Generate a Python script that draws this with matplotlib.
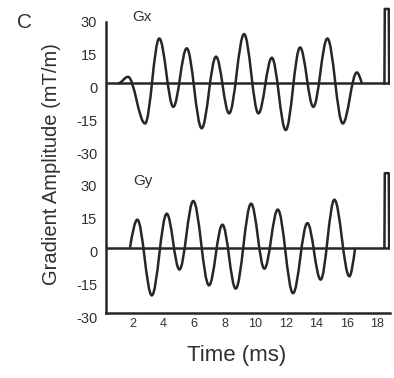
import matplotlib
matplotlib.use("Agg")
import matplotlib.pyplot as plt
from matplotlib.path import Path
from matplotlib.patches import PathPatch
from matplotlib.transforms import ScaledTranslation

plt.rcParams['font.family'] = ['Liberation Sans', 'DejaVu Sans']

# Gx readout gradient: times (ms) and amplitudes (mT/m) of each lobe extremum
gx_t = [1.02, 1.67, 2.79, 3.72, 4.64, 5.52, 6.50, 7.44, 8.30, 9.28,
        10.22, 11.10, 12.01, 12.95, 13.82, 14.74, 15.75, 16.67, 17.00]
gx_a = [0, 3, -18.3, 20.5, -10.7, 16, -20.5, 12.2, -13.7, 22.5,
        -13.7, 11.7, -21.3, 16.4, -10.7, 20.5, -18.3, 5, 0]

# Gy gradient
gy_t = [1.80, 2.28, 3.23, 4.21, 5.04, 5.95, 6.98, 7.86, 8.73, 9.74,
        10.61, 11.49, 12.49, 13.43, 14.30, 15.20, 16.18, 16.56]
gy_a = [0, 12.8, -21.8, 15.5, -10, 21.3, -17.2, 10.5, -18.7, 20.1,
        -9.6, 17.4, -20.8, 11.2, -14.6, 21.9, -13.1, 0]

# spoiler spikes at the end of each waveform
spike_t = [18.48, 18.79]
spike_amp = [34, 34]

panel_names = ["Gx", "Gy"]
ytick_vals = [-30, -15, 0, 15, 30]
xtick_vals = [2, 4, 6, 8, 10, 12, 14, 16, 18]

OFFSET = 75  # vertical shift of the Gx trace above the Gy trace
INK = "#262626"
TXT = "#303030"
LW = 1.8


def wave_path(t, a, base, start_cross=False, end_cross=False):
    """Smooth path through the lobe extrema using cubic Bezier segments."""
    verts = [(t[0], a[0] + base)]
    codes = [Path.MOVETO]
    n = len(t) - 1
    for i in range(n):
        t0, a0, t1, a1 = t[i], a[i], t[i + 1], a[i + 1]
        dt = t1 - t0
        if i == 0 and start_cross:
            c1 = (t0 + 0.326 * dt, a0 + 0.512 * (a1 - a0))
            c2 = (t1 - 0.326 * dt, a1)
        elif i == n - 1 and end_cross:
            c1 = (t0 + 0.326 * dt, a0)
            c2 = (t1 - 0.326 * dt, a1 - 0.512 * (a1 - a0))
        else:
            c1 = (t0 + 0.36 * dt, a0)
            c2 = (t1 - 0.36 * dt, a1)
        verts += [(c1[0], c1[1] + base), (c2[0], c2[1] + base), (t1, a1 + base)]
        codes += [Path.CURVE4] * 3
    return Path(verts, codes)


fig = plt.figure(figsize=(3.94, 3.78), dpi=100)
ax = fig.add_axes([0.268, 0.171, 0.722, 0.817])

traces = [(gx_t, gx_a, OFFSET, False, True), (gy_t, gy_a, 0, True, True)]
for k, (t, a, base, sc, ec) in enumerate(traces):
    ax.add_patch(PathPatch(wave_path(t, a, base, sc, ec), fill=False,
                           edgecolor=INK, lw=LW, joinstyle="round"))
    # zero line of this panel
    ax.axhline(base, color=INK, lw=LW)
    # spike
    s0, s1 = spike_t
    w = s1 - s0
    ax.plot([s0, s0 + 0.08 * w, s1 - 0.08 * w, s1],
            [base, base + spike_amp[k], base + spike_amp[k], base],
            color=INK, lw=LW, solid_joinstyle="round")

ax.text(2.59, 105.3, panel_names[0], ha="center", va="center", fontsize=11, color=TXT)
ax.text(2.62, 30.4, panel_names[1], ha="center", va="center", fontsize=11, color=TXT)

ax.set_xlim(0.2, 18.85)
ax.set_ylim(-30, 111)

yt = ytick_vals + [v + OFFSET for v in ytick_vals]
ax.set_yticks(yt)
ax.set_yticklabels([str(v) for v in ytick_vals * 2])
ax.set_xticks(xtick_vals)
ax.set_xticklabels([str(v) for v in xtick_vals])
ax.tick_params(axis="y", length=0, pad=6, labelsize=10.5, labelcolor=TXT)
ax.tick_params(axis="x", length=0, pad=3.5, labelsize=9, labelcolor=TXT)

shift = ScaledTranslation(0, -4 / 100, fig.dpi_scale_trans)
for lab in ax.get_yticklabels():
    lab.set_transform(lab.get_transform() + shift)

for side in ["top", "right"]:
    ax.spines[side].set_visible(False)
for side in ["left", "bottom"]:
    ax.spines[side].set_color(INK)
    ax.spines[side].set_linewidth(LW)
ax.spines["left"].set_bounds(-30, 103)

fig.text(237 / 394, 1 - 355 / 378, "Time (ms)", ha="center", va="center",
         fontsize=16, color=TXT)
fig.text(52 / 394, 1 - 164 / 378, "Gradient Amplitude (mT/m)", rotation=90,
         ha="center", va="center", fontsize=14.5, color=TXT)
fig.text(25 / 394, 1 - 22 / 378, "C", ha="center", va="center",
         fontsize=15, color=TXT)

fig.savefig("out.png", dpi=100)
